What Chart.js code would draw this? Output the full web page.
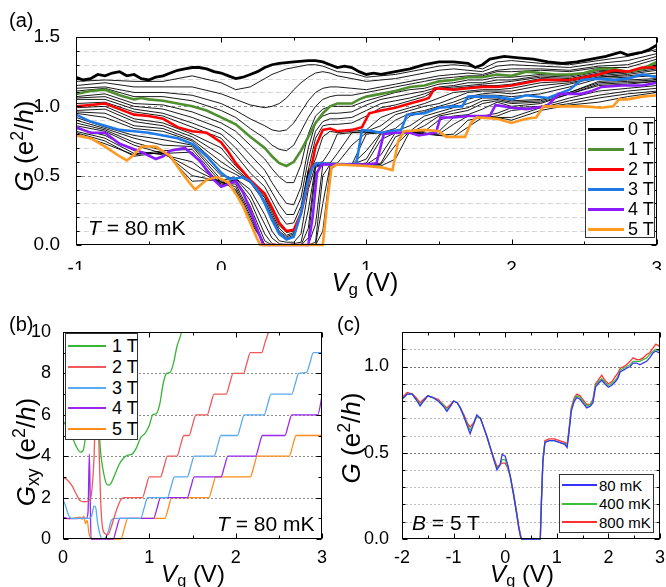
<!DOCTYPE html>
<html><head><meta charset="utf-8">
<script src="https://cdn.jsdelivr.net/npm/chart.js@4.4.1/dist/chart.umd.min.js"></script>
<style>
body{margin:0;background:#fff;}
#wrap{position:relative;width:666px;height:587px;font-family:'Liberation Sans',Arial,Helvetica,sans-serif;color:#000;overflow:hidden;}
canvas{position:absolute;}
.t{position:absolute;white-space:nowrap;line-height:1;}
.rot{transform:translate(-50%,-50%) rotate(-90deg);}
.ctr{transform:translate(-50%,0);}
sub,sup{font-size:68%;line-height:0;}
sub{vertical-align:-0.25em;}
sup{vertical-align:0.55em;}
.leg{position:absolute;background:#fff;border:1px solid #333;box-sizing:border-box;}
.row{position:absolute;white-space:nowrap;line-height:1;}
.ln{position:absolute;height:0;}
</style></head>
<body><div id="wrap">
<canvas id="ca" width="666" height="270" style="left:0;top:0"></canvas>
<canvas id="cb" width="333" height="287" style="left:0;top:300px"></canvas>
<canvas id="cc" width="333" height="287" style="left:333px;top:300px"></canvas>

<div class="t" style="left:9px;top:10px;font-size:20px">(a)</div>
<div class="t" style="left:9px;top:314px;font-size:20px">(b)</div>
<div class="t" style="left:337px;top:314px;font-size:20px">(c)</div>

<div class="t rot" style="left:24px;top:146px;font-size:26px"><i>G</i> (e<sup>2</sup>/<i>h</i>)</div>
<div class="t ctr" style="left:365px;top:270px;font-size:25px"><i>V</i><sub>g</sub> (V)</div>
<div class="t rot" style="left:26px;top:452px;font-size:26px"><i>G</i><sub>xy</sub> (e<sup>2</sup>/<i>h</i>)</div>
<div class="t ctr" style="left:193px;top:562px;font-size:24px"><i>V</i><sub>g</sub> (V)</div>
<div class="t rot" style="left:351px;top:438px;font-size:26px"><i>G</i> (e<sup>2</sup>/<i>h</i>)</div>
<div class="t ctr" style="left:522px;top:562px;font-size:24px"><i>V</i><sub>g</sub> (V)</div>

<div class="t" style="left:88px;top:217px;font-size:21px"><i>T</i> = 80 mK</div>
<div class="t" style="left:217px;top:513px;font-size:21px"><i>T</i> = 80 mK</div>
<div class="t" style="left:412px;top:512px;font-size:21px"><i>B</i> = 5 T</div>

<div id="legA" class="leg" style="left:585px;top:117px;width:70px;height:121px"></div>
<div id="legB" class="leg" style="left:65px;top:333px;width:73px;height:107px"></div>
<div id="legC" class="leg" style="left:559px;top:474px;width:95px;height:59px"></div>
</div>
<script>
const FONT = "'Liberation Sans', Arial, Helvetica, sans-serif";

// ---------- Panel (a): G vs Vg at B = 0..5 T (0.2 T steps), T = 80 mK ----------
const xTicksA = [-1, 0, 1, 2, 3];
const xMinorA = [-0.5, 0.5, 1.5, 2.5];
const yTicksA = [0, 0.5, 1.0, 1.5];
const yMinorA = [0.1,0.2,0.3,0.4,0.6,0.7,0.8,0.9,1.1,1.2,1.3,1.4];
const gridLightA = [0.1,0.2,0.3,0.4,0.6,0.7,0.8,0.9,1.1,1.2,1.3,1.4];
const gridDarkA = [0.5, 1.0];

const a0T = [[-1,1.21],[-0.95,1.19],[-0.9,1.20],[-0.85,1.23],[-0.8,1.22],[-0.75,1.24],[-0.7,1.25],[-0.65,1.22],[-0.6,1.23],[-0.55,1.20],[-0.5,1.19],[-0.45,1.21],[-0.4,1.22],[-0.35,1.24],[-0.3,1.26],[-0.25,1.27],[-0.2,1.28],[-0.15,1.28],[-0.1,1.27],[-0.05,1.25],[0,1.24],[0.05,1.22],[0.1,1.20],[0.15,1.21],[0.2,1.23],[0.25,1.25],[0.3,1.28],[0.35,1.30],[0.4,1.31],[0.5,1.32],[0.6,1.33],[0.65,1.33],[0.7,1.32],[0.75,1.30],[0.8,1.28],[0.85,1.29],[0.9,1.28],[0.95,1.25],[1.0,1.23],[1.05,1.24],[1.1,1.23],[1.2,1.25],[1.3,1.27],[1.4,1.30],[1.5,1.32],[1.6,1.32],[1.7,1.31],[1.75,1.28],[1.8,1.30],[1.85,1.34],[1.95,1.36],[2.05,1.35],[2.15,1.34],[2.25,1.32],[2.35,1.31],[2.45,1.32],[2.55,1.34],[2.65,1.36],[2.75,1.39],[2.8,1.37],[2.85,1.38],[2.9,1.39],[2.95,1.41],[3.0,1.44]];
const a1T = [[-1,1.09],[-0.9,1.11],[-0.8,1.12],[-0.7,1.08],[-0.6,1.05],[-0.55,1.06],[-0.5,1.05],[-0.4,1.04],[-0.3,1.02],[-0.2,1.00],[-0.1,0.97],[0,0.92],[0.1,0.87],[0.2,0.78],[0.3,0.70],[0.35,0.64],[0.4,0.59],[0.45,0.57],[0.5,0.60],[0.55,0.68],[0.6,0.78],[0.65,0.88],[0.7,0.95],[0.75,1.00],[0.8,1.02],[0.9,1.02],[0.95,1.05],[1.0,1.07],[1.1,1.09],[1.2,1.11],[1.3,1.14],[1.4,1.15],[1.5,1.18],[1.6,1.19],[1.7,1.21],[1.8,1.21],[1.9,1.23],[2.0,1.22],[2.1,1.25],[2.2,1.24],[2.3,1.23],[2.4,1.23],[2.5,1.24],[2.6,1.27],[2.7,1.27],[2.8,1.25],[2.9,1.27],[3.0,1.32]];
const a2T = [[-1,1.00],[-0.9,1.01],[-0.8,1.02],[-0.7,0.98],[-0.6,0.94],[-0.5,0.93],[-0.4,0.91],[-0.3,0.85],[-0.2,0.82],[-0.1,0.81],[0,0.74],[0.05,0.67],[0.1,0.59],[0.2,0.47],[0.3,0.37],[0.35,0.27],[0.4,0.16],[0.45,0.10],[0.5,0.11],[0.55,0.23],[0.6,0.45],[0.65,0.71],[0.7,0.83],[0.75,0.84],[0.8,0.82],[0.9,0.83],[0.97,0.85],[1.02,0.95],[1.1,0.97],[1.2,0.99],[1.3,1.02],[1.4,1.05],[1.43,1.06],[1.47,1.13],[1.6,1.12],[1.7,1.13],[1.8,1.14],[1.9,1.14],[2.0,1.15],[2.1,1.17],[2.2,1.19],[2.3,1.19],[2.4,1.19],[2.5,1.21],[2.6,1.23],[2.7,1.26],[2.8,1.25],[2.9,1.28],[3.0,1.28]];
const a3T = [[-1,0.94],[-0.9,0.89],[-0.8,0.86],[-0.7,0.83],[-0.6,0.82],[-0.5,0.81],[-0.4,0.79],[-0.3,0.77],[-0.2,0.73],[-0.1,0.64],[0,0.52],[0.05,0.48],[0.1,0.48],[0.15,0.49],[0.2,0.46],[0.25,0.40],[0.3,0.30],[0.35,0.18],[0.4,0.08],[0.45,0.04],[0.5,0.06],[0.55,0.23],[0.6,0.47],[0.63,0.56],[0.66,0.59],[0.8,0.58],[0.93,0.58],[0.97,0.83],[1.05,0.82],[1.1,0.81],[1.24,0.83],[1.28,0.94],[1.4,0.95],[1.5,0.99],[1.6,1.00],[1.66,1.00],[1.7,1.07],[1.8,1.07],[1.9,1.07],[2.0,1.05],[2.1,1.08],[2.25,1.06],[2.4,1.12],[2.48,1.19],[2.6,1.20],[2.7,1.19],[2.8,1.20],[2.9,1.23],[3.0,1.21]];
const a4T = [[-1,0.85],[-0.9,0.81],[-0.8,0.81],[-0.7,0.73],[-0.6,0.69],[-0.55,0.67],[-0.45,0.62],[-0.4,0.64],[-0.35,0.68],[-0.25,0.70],[-0.15,0.61],[-0.05,0.47],[0,0.42],[0.05,0.44],[0.1,0.46],[0.15,0.38],[0.2,0.25],[0.25,0.11],[0.29,0.0],[0.6,0.0],[0.63,0.2],[0.66,0.52],[0.69,0.58],[0.8,0.58],[1.0,0.58],[1.07,0.59],[1.12,0.80],[1.2,0.81],[1.3,0.81],[1.36,0.79],[1.48,0.81],[1.51,0.92],[1.6,0.92],[1.7,0.93],[1.85,0.93],[1.89,1.01],[2.0,0.99],[2.1,0.98],[2.24,1.00],[2.33,1.09],[2.48,1.09],[2.55,1.11],[2.62,1.14],[2.76,1.15],[2.9,1.15],[3.0,1.17]];
const a5T = [[-1,0.79],[-0.9,0.77],[-0.8,0.71],[-0.7,0.64],[-0.65,0.61],[-0.6,0.65],[-0.55,0.71],[-0.45,0.71],[-0.35,0.64],[-0.25,0.49],[-0.18,0.40],[-0.1,0.47],[-0.03,0.49],[0.05,0.45],[0.1,0.37],[0.15,0.28],[0.2,0.16],[0.25,0.04],[0.27,0.0],[0.70,0.0],[0.73,0.3],[0.76,0.56],[0.8,0.58],[1.0,0.57],[1.1,0.56],[1.18,0.54],[1.22,0.75],[1.26,0.82],[1.4,0.83],[1.5,0.82],[1.55,0.78],[1.68,0.78],[1.72,0.88],[1.76,0.92],[1.9,0.91],[2.0,0.88],[2.1,0.91],[2.17,0.92],[2.22,1.00],[2.4,1.00],[2.5,1.00],[2.62,0.99],[2.7,1.00],[2.74,1.05],[2.8,1.05],[2.9,1.07],[3.0,1.08]];

// intermediate fields (thin black), read on a common Vg grid
const vgA = [-1,-0.8,-0.6,-0.4,-0.2,0,0.1,0.2,0.3,0.35,0.4,0.45,0.5,0.55,0.6,0.65,0.7,0.75,0.8,0.9,1.0,1.1,1.2,1.3,1.4,1.5,1.6,1.7,1.8,1.9,2.0,2.2,2.4,2.6,2.8,3.0];
const b02 = [1.18,1.19,1.18,1.18,1.22,1.17,1.12,1.14,1.20,1.23,1.25,1.27,1.28,1.29,1.30,1.30,1.29,1.27,1.25,1.24,1.21,1.22,1.23,1.25,1.27,1.29,1.30,1.29,1.27,1.32,1.33,1.31,1.30,1.33,1.36,1.41];
const b04 = [1.15,1.17,1.14,1.14,1.14,1.09,1.05,1.01,0.99,1.00,1.02,1.06,1.12,1.17,1.21,1.24,1.25,1.24,1.22,1.20,1.18,1.19,1.20,1.22,1.24,1.26,1.27,1.26,1.25,1.29,1.30,1.29,1.28,1.31,1.33,1.38];
const b06 = [1.13,1.14,1.10,1.10,1.08,1.02,0.97,0.91,0.86,0.83,0.82,0.83,0.88,0.96,1.04,1.10,1.13,1.14,1.14,1.13,1.12,1.14,1.16,1.18,1.20,1.22,1.23,1.24,1.23,1.26,1.27,1.27,1.26,1.29,1.30,1.36];
const b08 = [1.11,1.13,1.07,1.07,1.04,0.97,0.92,0.84,0.77,0.72,0.69,0.68,0.72,0.82,0.92,1.00,1.05,1.07,1.08,1.08,1.10,1.12,1.14,1.16,1.18,1.20,1.21,1.22,1.22,1.25,1.25,1.26,1.25,1.28,1.28,1.34];
const b12 = [1.07,1.09,1.02,1.01,0.96,0.88,0.82,0.72,0.62,0.55,0.49,0.45,0.45,0.58,0.80,0.93,0.98,1.00,1.00,1.00,1.04,1.07,1.10,1.12,1.13,1.16,1.17,1.19,1.19,1.21,1.21,1.23,1.22,1.26,1.25,1.31];
const b14 = [1.06,1.07,1.00,0.98,0.92,0.84,0.76,0.65,0.54,0.45,0.37,0.30,0.29,0.42,0.70,0.88,0.93,0.95,0.95,0.96,1.01,1.05,1.07,1.09,1.11,1.14,1.15,1.17,1.17,1.19,1.19,1.22,1.21,1.25,1.25,1.30];
const b16 = [1.05,1.05,0.98,0.95,0.88,0.80,0.70,0.58,0.47,0.38,0.29,0.22,0.22,0.34,0.62,0.82,0.89,0.91,0.91,0.92,0.97,1.02,1.04,1.06,1.09,1.13,1.14,1.15,1.16,1.17,1.18,1.21,1.20,1.24,1.25,1.29];
const b18 = [1.02,1.03,0.96,0.93,0.85,0.77,0.65,0.52,0.42,0.32,0.22,0.15,0.16,0.28,0.54,0.77,0.86,0.87,0.87,0.88,0.93,0.99,1.01,1.04,1.07,1.13,1.13,1.14,1.15,1.15,1.16,1.20,1.19,1.23,1.25,1.28];
const b22 = [0.99,1.00,0.91,0.88,0.80,0.70,0.57,0.47,0.35,0.25,0.14,0.09,0.10,0.22,0.50,0.62,0.78,0.82,0.81,0.82,0.83,0.92,0.96,0.99,1.02,1.06,1.10,1.11,1.12,1.12,1.13,1.17,1.18,1.22,1.24,1.27];
const b24 = [0.97,0.98,0.89,0.86,0.78,0.65,0.55,0.46,0.34,0.23,0.12,0.07,0.09,0.22,0.52,0.59,0.60,0.68,0.80,0.81,0.82,0.86,0.94,0.97,1.00,1.02,1.06,1.10,1.11,1.11,1.11,1.15,1.17,1.21,1.23,1.26];
const b26 = [0.96,0.95,0.86,0.84,0.76,0.60,0.53,0.46,0.32,0.21,0.10,0.06,0.08,0.23,0.54,0.59,0.59,0.59,0.66,0.81,0.81,0.82,0.90,0.95,0.97,1.00,1.03,1.07,1.09,1.10,1.09,1.12,1.16,1.21,1.22,1.24];
const b28 = [0.95,0.92,0.84,0.82,0.75,0.56,0.51,0.45,0.31,0.19,0.09,0.05,0.07,0.23,0.53,0.59,0.59,0.59,0.59,0.72,0.81,0.81,0.84,0.93,0.96,0.99,1.01,1.05,1.08,1.08,1.07,1.09,1.14,1.20,1.21,1.22];
const b32 = [0.92,0.85,0.79,0.76,0.72,0.50,0.48,0.40,0.22,0.10,0.03,0.02,0.02,0.08,0.40,0.58,0.58,0.58,0.58,0.58,0.80,0.81,0.82,0.86,0.93,0.96,0.99,1.02,1.06,1.06,1.04,1.05,1.10,1.18,1.19,1.20];
const b34 = [0.90,0.84,0.77,0.72,0.71,0.47,0.48,0.36,0.15,0.05,0.01,0.00,0.01,0.02,0.25,0.57,0.58,0.58,0.58,0.58,0.68,0.81,0.81,0.82,0.90,0.94,0.97,0.99,1.04,1.05,1.03,1.04,1.10,1.17,1.18,1.19];
const b36 = [0.88,0.83,0.74,0.68,0.69,0.45,0.47,0.32,0.08,0.01,0,0,0,0,0.12,0.56,0.58,0.58,0.58,0.58,0.62,0.80,0.81,0.81,0.86,0.93,0.95,0.97,1.02,1.04,1.02,1.03,1.09,1.16,1.17,1.18];
const b38 = [0.86,0.82,0.72,0.66,0.67,0.43,0.47,0.28,0.03,0,0,0,0,0,0.05,0.52,0.58,0.58,0.58,0.58,0.59,0.76,0.81,0.81,0.82,0.90,0.93,0.94,0.98,1.03,1.00,1.02,1.09,1.15,1.16,1.18];
const b42 = [0.84,0.79,0.68,0.65,0.60,0.44,0.44,0.23,0,0,0,0,0,0,0,0.15,0.58,0.58,0.58,0.58,0.58,0.65,0.81,0.81,0.80,0.82,0.92,0.93,0.93,0.95,0.99,1.00,1.06,1.11,1.13,1.15];
const b44 = [0.82,0.77,0.66,0.66,0.55,0.45,0.42,0.21,0,0,0,0,0,0,0,0.02,0.50,0.58,0.58,0.58,0.58,0.59,0.78,0.82,0.80,0.80,0.87,0.93,0.92,0.93,0.97,0.99,1.04,1.08,1.11,1.13];
const b46 = [0.81,0.75,0.64,0.67,0.50,0.46,0.40,0.19,0,0,0,0,0,0,0,0,0.30,0.57,0.58,0.58,0.58,0.58,0.72,0.82,0.80,0.79,0.80,0.90,0.92,0.92,0.92,0.99,1.02,1.06,1.09,1.11];
const b48 = [0.80,0.73,0.65,0.68,0.46,0.47,0.39,0.17,0,0,0,0,0,0,0,0,0.10,0.54,0.58,0.58,0.57,0.57,0.62,0.82,0.81,0.79,0.78,0.85,0.92,0.92,0.90,0.97,1.01,1.03,1.07,1.10];

// ---------- Panel (b): Hall conductance ----------
const xTicksB = [0, 1, 2, 3];
const xMinorB = [0.5, 1.5, 2.5];
const yTicksB = [0, 2, 4, 6, 8, 10];
const yMinorB = [1, 3, 5, 7, 9];
const gridB = [2, 4, 6, 8];
const bx1T = [[0,5.7],[0.05,5.4],[0.1,5.0],[0.15,4.5],[0.2,4.2],[0.23,4.25],[0.26,5.0],[0.29,7.0],[0.32,10.5],[0.38,10.5],[0.4,7.0],[0.43,4.5],[0.47,3.2],[0.52,2.6],[0.55,2.65],[0.6,3.1],[0.65,3.6],[0.7,3.9],[0.75,4.05],[0.8,4.1],[0.85,4.4],[0.9,4.9],[0.95,5.1],[1.0,5.5],[1.04,6.0],[1.08,6.05],[1.12,6.5],[1.16,7.5],[1.2,8.0],[1.24,8.05],[1.28,8.5],[1.32,9.3],[1.36,9.8],[1.4,10.5]];
const bx2T = [[0,3.0],[0.05,2.85],[0.1,2.6],[0.15,2.2],[0.2,1.85],[0.25,1.8],[0.3,1.85],[0.33,2.2],[0.36,4.0],[0.38,6.5],[0.4,6.5],[0.42,4.0],[0.44,1.5],[0.46,0.5],[0.49,0.25],[0.52,0.2],[0.56,0.6],[0.62,1.4],[0.67,1.9],[0.71,2.0],[0.92,2.0],[0.96,2.5],[1.0,3.0],[1.13,3.0],[1.17,3.5],[1.21,4.0],[1.32,4.0],[1.36,4.5],[1.4,5.0],[1.46,5.0],[1.5,5.5],[1.54,6.0],[1.67,6.0],[1.71,6.5],[1.75,7.0],[1.89,7.0],[1.93,7.5],[1.97,8.0],[2.09,8.0],[2.13,8.5],[2.17,9.0],[2.3,9.0],[2.34,9.5],[2.38,10.0],[2.42,10.6]];
const bx3T = [[0,1.9],[0.03,1.6],[0.06,1.2],[0.1,1.0],[0.25,1.0],[0.3,1.0],[0.33,1.1],[0.36,1.6],[0.38,1.5],[0.4,0.8],[0.43,0.2],[0.46,0.0],[0.49,0.05],[0.52,0.3],[0.56,0.9],[0.6,1.0],[0.9,1.0],[0.94,1.5],[0.98,2.0],[1.21,2.0],[1.25,2.5],[1.29,3.0],[1.44,3.0],[1.48,3.5],[1.52,4.0],[1.75,4.0],[1.79,4.5],[1.83,5.0],[2.02,5.0],[2.06,5.5],[2.1,6.0],[2.33,6.0],[2.37,6.5],[2.41,7.0],[2.65,7.0],[2.69,7.5],[2.73,8.0],[2.82,8.05],[2.86,8.5],[2.9,9.0],[3.0,9.0]];
const bx4T = [[0,1.05],[0.05,1.0],[0.1,0.98],[0.2,1.0],[0.27,1.0],[0.29,1.3],[0.305,4.1],[0.315,2.0],[0.325,0.0],[0.58,0.0],[0.62,0.5],[0.66,1.0],[1.05,1.0],[1.09,1.5],[1.13,2.0],[1.44,2.0],[1.48,2.5],[1.52,3.0],[1.83,3.0],[1.87,3.5],[1.91,4.0],[2.23,4.0],[2.27,4.5],[2.31,5.0],[2.57,5.0],[2.61,5.5],[2.65,6.0],[2.95,6.0],[3.0,6.9]];
const bx5T = [[0,1.0],[0.05,0.98],[0.1,1.0],[0.15,1.02],[0.2,1.05],[0.22,0.95],[0.24,1.1],[0.26,0.75],[0.28,0.9],[0.3,0.3],[0.32,0.05],[0.35,0.0],[0.67,0.0],[0.71,0.5],[0.75,1.0],[1.18,1.0],[1.22,1.5],[1.26,2.0],[1.69,2.0],[1.73,2.5],[1.77,3.0],[2.17,3.0],[2.21,3.5],[2.25,4.0],[2.62,4.0],[2.66,4.5],[2.7,5.0],[3.0,5.0]];

// ---------- Panel (c): G vs Vg at B = 5 T, three temperatures ----------
const xTicksC = [-2, -1, 0, 1, 2, 3];
const xMinorC = [-1.5, -0.5, 0.5, 1.5, 2.5];
const yTicksC = [0, 0.5, 1.0];
const yMinorC = [0.1,0.2,0.3,0.4,0.6,0.7,0.8,0.9,1.1];
const gridLightC = [0.1,0.2,0.3,0.4,0.6,0.7,0.8,0.9,1.1];
const gridDarkC = [0.5, 1.0];
const vgC = [-2.0,-1.9,-1.8,-1.73,-1.65,-1.58,-1.5,-1.4,-1.3,-1.2,-1.13,-1.06,-1.0,-0.93,-0.87,-0.8,-0.73,-0.68,-0.62,-0.55,-0.48,-0.42,-0.35,-0.29,-0.22,-0.16,-0.1,-0.06,0.0,0.05,0.1,0.16,0.22,0.26,0.3,0.32,0.68,0.7,0.73,0.77,0.85,0.95,1.05,1.15,1.2,1.23,1.28,1.34,1.39,1.45,1.5,1.58,1.65,1.7,1.75,1.8,1.87,1.93,2.0,2.06,2.13,2.18,2.23,2.3,2.35,2.42,2.48,2.55,2.61,2.67,2.74,2.8,2.87,2.92,2.97,3.0];
const c80 = [0.81,0.84,0.84,0.81,0.77,0.80,0.83,0.82,0.80,0.77,0.74,0.77,0.80,0.79,0.76,0.71,0.65,0.61,0.66,0.72,0.70,0.65,0.59,0.53,0.46,0.40,0.43,0.49,0.48,0.43,0.36,0.26,0.15,0.07,0.01,0.0,0.0,0.2,0.45,0.56,0.57,0.57,0.56,0.55,0.53,0.60,0.74,0.80,0.82,0.81,0.79,0.76,0.77,0.79,0.88,0.90,0.92,0.90,0.88,0.89,0.91,0.93,0.97,0.98,0.99,1.00,1.02,1.02,1.01,1.02,1.03,1.05,1.08,1.09,1.08,1.08];
const c400 = [0.81,0.84,0.84,0.81,0.78,0.80,0.83,0.82,0.80,0.78,0.75,0.77,0.80,0.79,0.76,0.71,0.66,0.63,0.66,0.71,0.70,0.65,0.59,0.53,0.46,0.41,0.43,0.46,0.46,0.42,0.36,0.26,0.15,0.07,0.01,0.0,0.0,0.2,0.45,0.56,0.57,0.57,0.56,0.55,0.54,0.61,0.75,0.81,0.83,0.82,0.80,0.77,0.78,0.80,0.89,0.91,0.93,0.91,0.89,0.90,0.92,0.94,0.98,0.99,1.00,1.01,1.03,1.03,1.03,1.04,1.05,1.07,1.09,1.10,1.09,1.10];
const c800 = [0.82,0.85,0.84,0.82,0.79,0.81,0.83,0.82,0.81,0.78,0.76,0.78,0.80,0.79,0.76,0.72,0.67,0.65,0.67,0.71,0.70,0.65,0.59,0.53,0.47,0.42,0.43,0.44,0.44,0.41,0.36,0.27,0.16,0.08,0.02,0.0,0.0,0.2,0.45,0.57,0.58,0.58,0.57,0.56,0.55,0.62,0.76,0.82,0.84,0.83,0.81,0.78,0.78,0.81,0.90,0.92,0.95,0.92,0.90,0.91,0.94,0.96,0.99,1.00,1.01,1.03,1.05,1.04,1.04,1.05,1.07,1.08,1.11,1.13,1.12,1.13];

// ---------- legends ----------
const legA = [['0 T','#000000'],['1 T','#4f8f2f'],['2 T','#ff0000'],['3 T','#1f7ae8'],['4 T','#8c1cff'],['5 T','#ff9920']];
const legB = [['1 T','#36b536'],['2 T','#f05a5a'],['3 T','#58aaf2'],['4 T','#9a28ee'],['5 T','#ff8c1a']];
const legC = [['80 mK','#3535ff'],['400 mK','#3cc03c'],['800 mK','#ff3030']];

function buildLegend(id, items, opt){
  const el = document.getElementById(id);
  items.forEach((it,i)=>{
    const y = opt.y0 + i*opt.dy;
    const ln = document.createElement('div');
    ln.className='ln';
    ln.style.cssText = `left:${opt.lx}px;top:${y - opt.lw/2}px;width:${opt.lw2}px;border-top:${opt.lw}px solid ${it[1]};`;
    el.appendChild(ln);
    const tx = document.createElement('div');
    tx.className='row';
    tx.style.cssText = `left:${opt.tx}px;top:${y - opt.fs*0.5}px;font-size:${opt.fs}px;`;
    tx.textContent = it[0];
    el.appendChild(tx);
  });
}
buildLegend('legA', legA, {y0:11, dy:20, lx:2, lw:3, lw2:36, tx:42, fs:18});
buildLegend('legB', legB, {y0:12, dy:20.8, lx:2, lw:2, lw2:38, tx:46, fs:18});
buildLegend('legC', legC, {y0:10, dy:18.5, lx:2, lw:2, lw2:35, tx:39, fs:15});

// ---------- frame / grid / inward ticks plugin ----------
const framePlugin = {
  id:'frame',
  beforeDatasetsDraw(chart, args, o){
    const {ctx, chartArea:a, scales:{x,y}} = chart;
    ctx.save();
    (o.grid||[]).forEach(g=>{
      g.vals.forEach(v=>{
        const py = Math.round(y.getPixelForValue(v)) + 0.5;
        ctx.strokeStyle = g.color; ctx.lineWidth = 1; ctx.setLineDash(g.dash);
        ctx.beginPath(); ctx.moveTo(a.left, py); ctx.lineTo(a.right, py); ctx.stroke();
      });
    });
    ctx.restore();
  },
  afterDatasetsDraw(chart, args, o){
    const {ctx, chartArea:a, scales:{x,y}} = chart;
    ctx.save();
    ctx.strokeStyle = '#000'; ctx.lineWidth = 1; ctx.setLineDash([]);
    const L = Math.round(a.left)+0.5, R = Math.round(a.right)-0.5, T = Math.round(a.top)+0.5, B = Math.round(a.bottom)-0.5;
    const tx = (vals,len)=>vals.forEach(v=>{const px=Math.round(x.getPixelForValue(v))+0.5; ctx.beginPath(); ctx.moveTo(px,B); ctx.lineTo(px,B-len); ctx.moveTo(px,T); ctx.lineTo(px,T+len); ctx.stroke();});
    const ty = (vals,len)=>vals.forEach(v=>{const py=Math.round(y.getPixelForValue(v))+0.5; ctx.beginPath(); ctx.moveTo(L,py); ctx.lineTo(L+len,py); ctx.moveTo(R,py); ctx.lineTo(R-len,py); ctx.stroke();});
    tx(o.xMajor,5); tx(o.xMinor,3); ty(o.yMajor,5); ty(o.yMinor,3);
    ctx.strokeRect(L, T, R-L, B-T);
    ctx.restore();
  }
};
Chart.register(framePlugin);

function setTicks(vals){ return s => { s.ticks = vals.map(v=>({value:v})); }; }
function axis(min,max,ticks,fit,isX,fs,pad,fmt){
  return {type:'linear', min, max, afterBuildTicks:setTicks(ticks),
    afterFit: s => { if(isX) s.height = fit; else s.width = fit; },
    grid:{display:false}, border:{display:false},
    ticks:{color:'#000', font:{family:FONT, size:fs}, padding:pad, maxRotation:0, autoSkip:false, callback: fmt}};
}
const fmtInt = v => String(v);
const fmt1 = v => v.toFixed(1);
const base = (pad, plug) => ({responsive:false, animation:false, events:[], layout:{padding:pad},
  plugins:{legend:{display:false}, tooltip:{enabled:false}, frame:plug}});

// ---------- chart (a) ----------
const blackSets = [b02,b04,b06,b08,b12,b14,b16,b18,b22,b24,b26,b28,b32,b34,b36,b38,b42,b44,b46,b48];
const dsA = [];
[[a0T,'#000000',2.8],[a5T,'#ff9920',2.6],[a4T,'#8c1cff',2.6],[a3T,'#1f7ae8',2.6],[a2T,'#ff0000',2.6],[a1T,'#4f8f2f',2.6]].forEach(([d,c,w])=>{
  dsA.push({data:d, borderColor:c, borderWidth:w, pointRadius:0, order:0, clip:{left:0,top:0,right:0,bottom:2}});
});
blackSets.forEach(arr=>{
  dsA.push({data: vgA.map((v,i)=>({x:v, y:arr[i]})), borderColor:'#000', borderWidth:0.9, pointRadius:0, order:1, clip:{left:0,top:0,right:0,bottom:1}});
});
const optA = base({left:0,right:8,top:37,bottom:0}, {xMajor:xTicksA, xMinor:xMinorA, yMajor:yTicksA, yMinor:yMinorA,
  grid:[{vals:gridLightA, color:'#d6d6d6', dash:[5,3]},{vals:gridDarkA, color:'#8c8c8c', dash:[3,3]}]});
optA.scales = {x:axis(-1,3,xTicksA,25,true,19,4,fmtInt), y:axis(0,1.5,yTicksA,76,false,19,8,fmt1)};
new Chart(document.getElementById('ca'), {type:'line', data:{datasets:dsA}, options:optA});

// ---------- chart (b) ----------
const dsB = [[bx1T,legB[0][1]],[bx2T,legB[1][1]],[bx3T,legB[2][1]],[bx4T,legB[3][1]],[bx5T,legB[4][1]]].map(([d,c])=>({
  data:d, borderColor:c, borderWidth:1.3, pointRadius:0, cubicInterpolationMode:'monotone', clip:{left:0,top:0,right:0,bottom:1}}));
const optB = base({left:0,right:11,top:32,bottom:0}, {xMajor:xTicksB, xMinor:xMinorB, yMajor:yTicksB, yMinor:yMinorB,
  grid:[{vals:gridB, color:'#8c8c8c', dash:[2,2]}]});
optB.scales = {x:axis(0,3,xTicksB,48,true,18,0,fmtInt), y:axis(0,10,yTicksB,63,false,18,4,fmtInt)};
new Chart(document.getElementById('cb'), {type:'line', data:{datasets:dsB}, options:optB});

// ---------- chart (c) ----------
const dsC = [[c80,legC[0][1]],[c400,legC[1][1]],[c800,legC[2][1]]].map(([arr,c])=>({
  data: vgC.map((v,i)=>({x:v, y:arr[i]})), borderColor:c, borderWidth:1.3, pointRadius:0, clip:{left:0,top:0,right:0,bottom:1}}));
const optC = base({left:0,right:6,top:32,bottom:0}, {xMajor:xTicksC, xMinor:xMinorC, yMajor:yTicksC, yMinor:yMinorC,
  grid:[{vals:gridLightC, color:'#bdbdbd', dash:[2,2]},{vals:gridDarkC, color:'#7a7a7a', dash:[2,2]}]});
optC.scales = {x:axis(-2,3,xTicksC,48,true,18,0,fmtInt), y:axis(0,1.2,yTicksC,69,false,18,5,fmt1)};
new Chart(document.getElementById('cc'), {type:'line', data:{datasets:dsC}, options:optC});
</script>
</body></html>
